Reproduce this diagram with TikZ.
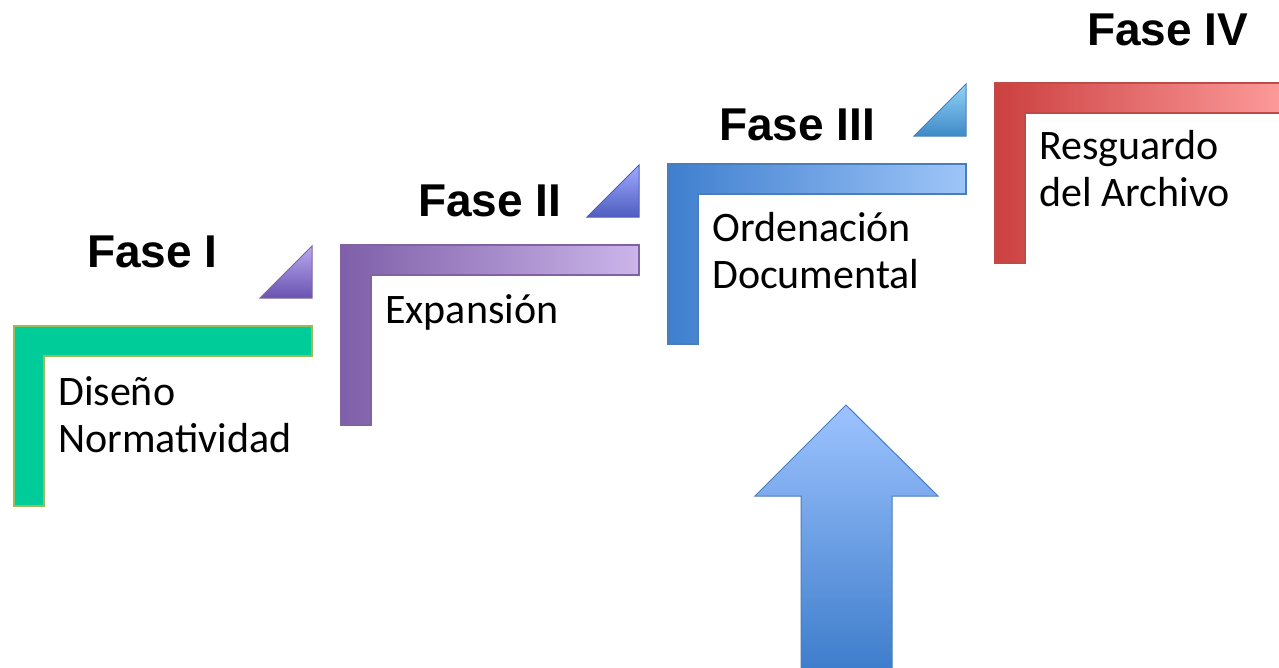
\documentclass[tikz,border=0pt]{standalone}
\usepackage{fontspec}
\setmainfont{Carlito}
\newfontfamily\fasefont{Liberation Sans}
\usetikzlibrary{positioning}

\definecolor{greenA}{HTML}{00CC99}
\definecolor{greenB}{HTML}{9BBB59}
\definecolor{purpleA}{HTML}{7F5FA9}
\definecolor{purpleB}{HTML}{CBB5EA}
\definecolor{purpleC}{HTML}{8064A2}
\definecolor{blueA}{HTML}{3F7FCF}
\definecolor{blueB}{HTML}{9EC5F8}
\definecolor{blueC}{HTML}{4A7EBB}
\definecolor{redA}{HTML}{CC4040}
\definecolor{redB}{HTML}{FF9E9E}
\definecolor{redC}{HTML}{BE4B48}
\definecolor{triAtop}{HTML}{B8AAF0}
\definecolor{triAbot}{HTML}{6A52B0}
\definecolor{triBtop}{HTML}{A0AAFF}
\definecolor{triBbot}{HTML}{4E5EC0}
\definecolor{triCtop}{HTML}{92D2F8}
\definecolor{triCbot}{HTML}{3E8AC6}
\definecolor{arrowtop}{HTML}{9DC3FF}
\definecolor{arrowbot}{HTML}{3E7DCB}

\begin{document}
\begin{tikzpicture}[
    x=1pt, y=-1pt,
    fase/.style={font=\fasefont\bfseries\fontsize{46}{50}\selectfont, anchor=base west, inner sep=0pt},
    desc/.style={font=\fontsize{42}{46.5}\selectfont, anchor=base west, align=left, inner sep=0pt},
    stepbar/.style={line width=1.2pt},
    wedge/.style={line width=1pt}
]

% Parameters for ease of adjustments
\newcommand{\StepDX}{327}
\newcommand{\StepDY}{81}
\newcommand{\ArmLen}{298}
\newcommand{\ArmH}{180}
\newcommand{\BarW}{30}
\newcommand{\WedgeS}{52}

\useasboundingbox (0,0) rectangle (1279,667);

% Draw the steps
\foreach \i/\lc/\rc/\bc in {1/greenA/greenA/greenB, 2/purpleA/purpleB/purpleC, 3/blueA/blueB/blueC, 4/redA/redB/redC}{
    \pgfmathsetmacro{\xo}{14+\StepDX*(\i-1)}
    \pgfmathsetmacro{\yo}{326-\StepDY*(\i-1)}
    \coordinate (step-\i) at (\xo,\yo);
    \path[stepbar, draw=\bc, left color=\lc, right color=\rc]
        (step-\i) -- ++(\ArmLen,0) -- ++(0,\BarW) -- ++(-\ArmLen+\BarW,0)
        -- ++(0,\ArmH-\BarW) -- ++(-\BarW,0) -- cycle;
}

% Draw the wedges next to each step
\foreach \i/\tc/\bc/\ec in {1/triAtop/triAbot/purpleC, 2/triBtop/triBbot/triBbot, 3/triCtop/triCbot/blueC}{
    \coordinate (tri-\i) at ([shift={(\ArmLen,-28)}]step-\i);
    \path[wedge, draw=\ec, top color=\tc, bottom color=\bc]
        (tri-\i) -- ++(0,-\WedgeS) -- ++(-\WedgeS,\WedgeS) -- cycle;
}

% Phase titles
\foreach \i/\x/\y/\num in {1/87/267/I, 2/418/216/II, 3/719/140/III, 4/1087/45/IV}{
    \node[fase] (fase-\i) at (\x,\y) {Fase \num};
}

% Phase descriptions (base is the last line)
\foreach \i/\dy/\txt in {1/126/{Diseño\\Normatividad}, 2/78/{Expansión}, 3/124/{Ordenación\\Documental}, 4/123/{Resguardo\\del Archivo}}{
    \node[desc] (desc-\i) at ([shift={(44,\dy)}]step-\i) {\txt};
}

% Big arrow pointing up
\path[draw=blueC, line width=1pt, top color=arrowtop, bottom color=arrowbot]
    (801,670) -- (801,496) -- (755,496) -- (846,405) -- (938,496) -- (892,496) -- (892,670) -- cycle;

\end{tikzpicture}
\end{document}
